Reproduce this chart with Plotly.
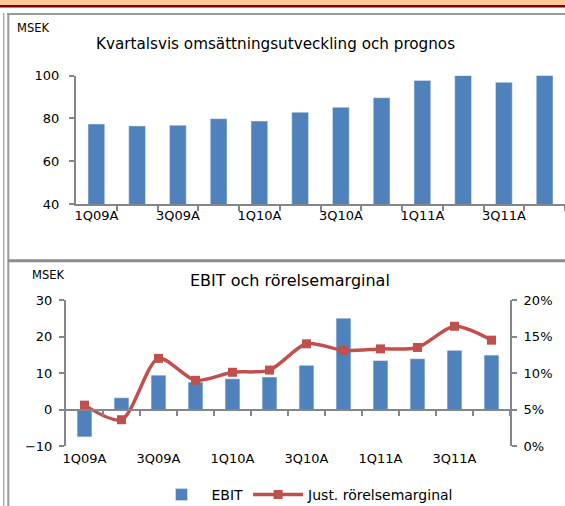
import plotly.graph_objects as go

# ---- data ----
quarters = ["1Q09A", "2Q09A", "3Q09A", "4Q09A", "1Q10A", "2Q10A",
            "3Q10A", "4Q10A", "1Q11A", "2Q11A", "3Q11A", "4Q11E"]
revenue = [77.4, 76.5, 76.8, 79.9, 78.8, 82.9, 85.2, 89.7, 97.8, 100.2, 96.9, 100.8]
ebit = [-7.5, 3.2, 9.4, 7.5, 8.4, 8.9, 12.1, 25.0, 13.4, 13.9, 16.2, 14.9]
margin = [0.056, 0.036, 0.120, 0.090, 0.101, 0.104, 0.140, 0.131, 0.133, 0.135, 0.164, 0.145]

top_title = "Kvartalsvis omsättningsutveckling och prognos"
bottom_title = "EBIT och rörelsemarginal"
unit = "MSEK"

W, H = 565, 506
FONT = "DejaVu Sans"
BAR = "#4F81BD"
LINE = "#C0504D"
AX = "#868686"


def px(x):
    return x / W


def py(y):
    return 1 - y / H


idx = list(range(len(quarters)))
label_vals = idx[::2]
label_txt = [quarters[i] for i in label_vals]
bounds = [i + 0.5 for i in idx]

fig = go.Figure()
fig.add_trace(go.Bar(x=idx, y=revenue, marker_color=BAR, width=0.41, cliponaxis=False,
                     showlegend=False, xaxis="x", yaxis="y"))
fig.add_trace(go.Bar(x=idx, y=ebit, marker_color=BAR, width=0.4,
                     name="EBIT", xaxis="x2", yaxis="y2"))
fig.add_trace(go.Scatter(x=idx, y=margin, mode="lines+markers",
                         line=dict(color=LINE, width=3.5, shape="spline", smoothing=0.8),
                         marker=dict(symbol="square", size=9, color=LINE),
                         name="Just. rörelsemarginal", xaxis="x2", yaxis="y3"))

axis_common = dict(showgrid=False, zeroline=False, linecolor=AX, linewidth=2,
                   tickfont=dict(family=FONT, size=13, color="black"))

fig.update_layout(
    width=W, height=H, margin=dict(l=0, r=0, t=0, b=0, autoexpand=False),
    paper_bgcolor="white", plot_bgcolor="rgba(0,0,0,0)",
    font=dict(family=FONT, color="black"),
    bargap=0.6,
    xaxis=dict(domain=[px(76), 1], range=[-0.5, 11.5], anchor="y",
               showline=True, tickmode="array", tickvals=label_vals, ticktext=label_txt,
               ticks="outside", ticklen=0,
               minor=dict(tickmode="array", tickvals=bounds, ticks="outside", ticklen=5,
                          tickcolor=AX, tickwidth=2),
               ticklabelstandoff=-2,
               **axis_common),
    yaxis=dict(domain=[py(204), py(75.7)], range=[40, 100], anchor="x",
               tickvals=[40, 60, 80, 100], showline=True, ticks="outside", ticklen=5,
               tickcolor=AX, tickwidth=2, ticklabelstandoff=7, **axis_common),
    xaxis2=dict(domain=[px(66), px(510)], range=[-0.5, 11.5], anchor="free",
                position=py(410), showline=True,
                tickmode="array", tickvals=label_vals, ticktext=label_txt,
                ticks="outside", ticklen=0,
                minor=dict(tickmode="array", tickvals=bounds, ticks="outside", ticklen=5,
                           tickcolor=AX, tickwidth=2),
                ticklabelstandoff=36,
                **axis_common),
    yaxis2=dict(domain=[py(446), py(300)], range=[-10, 30], anchor="x2",
                tickvals=[-10, 0, 10, 20, 30], showline=True, ticks="outside", ticklen=5,
                tickcolor=AX, tickwidth=2, ticklabelstandoff=4, **axis_common),
    yaxis3=dict(domain=[py(446), py(300)], range=[0, 0.20], anchor="x2",
                overlaying="y2", side="right",
                tickvals=[0, 0.05, 0.10, 0.15, 0.20], tickformat=".0%",
                showline=True, ticks="outside", ticklen=5,
                tickcolor=AX, tickwidth=2, ticklabelstandoff=4, **axis_common),
    legend=dict(orientation="h", x=px(305), xanchor="center", y=py(495), yanchor="middle",
                font=dict(family=FONT, size=14, color="black"), itemwidth=50,
                bgcolor="rgba(0,0,0,0)", traceorder="normal"),
)

# titles / unit labels
fig.add_annotation(text=top_title, x=px(275), y=py(44), xref="paper", yref="paper",
                   xanchor="center", yanchor="middle",
                   showarrow=False, font=dict(family=FONT, size=15.2, color="black"))
fig.add_annotation(text=unit, x=px(15), y=py(28), xref="paper", yref="paper",
                   xanchor="left", yanchor="middle",
                   showarrow=False, font=dict(family=FONT, size=11.5, color="black"))
fig.add_annotation(text=bottom_title, x=px(290), y=py(280), xref="paper", yref="paper",
                   xanchor="center", yanchor="middle",
                   showarrow=False, font=dict(family=FONT, size=16, color="black"))
fig.add_annotation(text=unit, x=px(30), y=py(275), xref="paper", yref="paper",
                   xanchor="left", yanchor="middle",
                   showarrow=False, font=dict(family=FONT, size=11.5, color="black"))

# page decoration (header band, frame lines)
P = dict(xref="paper", yref="paper")
shapes = [
    dict(type="rect", x0=0, x1=1, y0=py(0), y1=py(5), fillcolor="#FBC995", line_width=0, **P),
    dict(type="rect", x0=0, x1=1, y0=py(5), y1=py(7.5), fillcolor="#800000", line_width=0, **P),
    dict(type="line", x0=px(7), x1=1, y0=py(14), y1=py(14), line=dict(color="#9A9A9A", width=2), **P),
    dict(type="line", x0=px(3.8), x1=px(3.8), y0=py(13), y1=0, line=dict(color="#9A9A9A", width=1.2), **P),
    dict(type="line", x0=px(8.3), x1=px(8.3), y0=py(13), y1=0, line=dict(color="#9A9A9A", width=2), **P),
    dict(type="line", x0=px(8), x1=1, y0=py(260.7), y1=py(260.7), line=dict(color="#8C8C8C", width=3), **P),
]
fig.update_layout(shapes=shapes)

fig.write_html("out.html", config={"displayModeBar": False},
               post_script="document.body.style.margin='0';document.body.style.overflow='hidden';")
